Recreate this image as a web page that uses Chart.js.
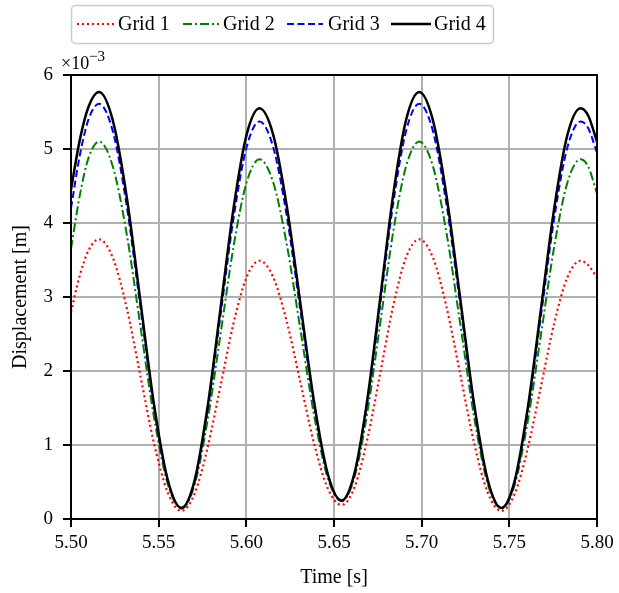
<!DOCTYPE html>
<html>
<head>
<meta charset="utf-8">
<script src="https://cdn.jsdelivr.net/npm/chart.js@4.4.0/dist/chart.umd.min.js"></script>
<style>
  html, body { margin: 0; padding: 0; background: #fff; }
  #wrap { width: 619px; height: 593px; }
</style>
</head>
<body>
<div id="wrap"><canvas id="lineChart" width="619" height="593"></canvas></div>
<script>
// time samples [s]
const times = [5.500, 5.505, 5.510,
    5.516, 5.5238, 5.5317, 5.5395, 5.5473, 5.5552,
    5.563, 5.5704, 5.5778, 5.5853, 5.5927, 5.6001,
    5.6075, 5.6153, 5.6231, 5.6309, 5.6387, 5.6465,
    5.6543, 5.6617, 5.6691, 5.6765, 5.6838, 5.6912,
    5.6986, 5.7064, 5.7142, 5.7221, 5.7299, 5.7377,
    5.7455, 5.753, 5.7605, 5.7681, 5.7756, 5.7831,
    5.7906, 5.795, 5.800];

// displacement, in units of 1e-3 m
const grid1 = [2.80, 3.29, 3.63,
    3.78, 3.534, 2.863, 1.945, 1.028, 0.356,
    0.11, 0.336, 0.955, 1.80, 2.645, 3.264,
    3.49, 3.269, 2.665, 1.84, 1.015, 0.411,
    0.19, 0.43, 1.088, 1.985, 2.883, 3.54,
    3.78, 3.534, 2.863, 1.945, 1.028, 0.356,
    0.11, 0.336, 0.955, 1.80, 2.645, 3.264,
    3.49, 3.43, 3.26];
const grid2 = [3.65, 4.37, 4.88,
    5.10, 4.768, 3.86, 2.62, 1.38, 0.472,
    0.14, 0.456, 1.32, 2.50, 3.68, 4.544,
    4.86, 4.55, 3.705, 2.55, 1.395, 0.550,
    0.24, 0.566, 1.455, 2.67, 3.885, 4.774,
    5.10, 4.768, 3.86, 2.62, 1.38, 0.472,
    0.14, 0.456, 1.32, 2.50, 3.68, 4.544,
    4.86, 4.76, 4.40];
const grid3 = [4.20, 4.91, 5.40,
    5.61, 5.244, 4.245, 2.88, 1.515, 0.516,
    0.15, 0.500, 1.455, 2.76, 4.065, 5.020,
    5.37, 5.027, 4.09, 2.81, 1.53, 0.593,
    0.25, 0.609, 1.59, 2.93, 4.27, 5.251,
    5.61, 5.244, 4.245, 2.88, 1.515, 0.516,
    0.15, 0.500, 1.455, 2.76, 4.065, 5.020,
    5.37, 5.28, 4.95];
const grid4 = [4.45, 5.12, 5.57,
    5.77, 5.39, 4.365, 2.96, 1.555, 0.527,
    0.15, 0.512, 1.50, 2.85, 4.20, 5.188,
    5.55, 5.195, 4.225, 2.90, 1.575, 0.605,
    0.25, 0.62, 1.63, 3.01, 4.39, 5.40,
    5.77, 5.39, 4.365, 2.96, 1.555, 0.527,
    0.15, 0.512, 1.50, 2.85, 4.20, 5.188,
    5.55, 5.45, 5.10];

const seriesNames = ['Grid 1', 'Grid 2', 'Grid 3', 'Grid 4'];
const xTicks = [5.50, 5.55, 5.60, 5.65, 5.70, 5.75, 5.80];
const yTicks = [0, 1, 2, 3, 4, 5, 6];

const FONT = '"Liberation Serif", "DejaVu Serif", serif';
const styles = [
    { color: '#ff0000', dash: [2, 3], width: 2.2 },
    { color: '#008000', dash: [9, 3, 2, 3], width: 2 },
    { color: '#0000ff', dash: [7, 3.5], width: 2 },
    { color: '#000000', dash: [], width: 2.5 }
];

function toPoints(vals) {
    return times.map((t, i) => ({ x: t, y: vals[i] }));
}

// spines on top/right, legend box and the offset label
const decorations = {
    id: 'decorations',
    afterDraw(chart) {
        const ctx = chart.ctx;
        const a = chart.chartArea;
        ctx.save();
        ctx.strokeStyle = '#000';
        ctx.lineWidth = 2;
        ctx.strokeRect(a.left, a.top, a.right - a.left, a.bottom - a.top);

        // legend
        ctx.fillStyle = '#fff';
        ctx.strokeStyle = '#cccccc';
        ctx.lineWidth = 1.5;
        ctx.beginPath();
        ctx.roundRect(71.5, 5.5, 422, 38, 4);
        ctx.fill();
        ctx.stroke();
        const items = [[77, 114, 118], [183, 219, 223], [287, 323, 328], [391, 431, 434]];
        ctx.font = '20px ' + FONT;
        ctx.textBaseline = 'middle';
        ctx.textAlign = 'left';
        items.forEach((it, i) => {
            const s = styles[i];
            ctx.strokeStyle = s.color;
            ctx.lineWidth = s.width;
            ctx.setLineDash(s.dash);
            ctx.beginPath();
            ctx.moveTo(it[0], 24);
            ctx.lineTo(it[1], 24);
            ctx.stroke();
            ctx.setLineDash([]);
            ctx.fillStyle = '#000';
            ctx.fillText(seriesNames[i], it[2], 25);
        });

        // x10^-3
        ctx.textBaseline = 'alphabetic';
        ctx.font = '18px ' + FONT;
        ctx.fillText('\u00d710', 61, 69);
        ctx.font = '15px ' + FONT;
        ctx.fillText('\u22123', 89, 61);
        ctx.restore();
    }
};

const ctx = document.getElementById('lineChart').getContext('2d');
new Chart(ctx, {
    type: 'line',
    data: {
        datasets: [grid1, grid2, grid3, grid4].map((vals, i) => ({
            label: seriesNames[i],
            data: toPoints(vals),
            borderColor: styles[i].color,
            borderDash: styles[i].dash,
            borderWidth: styles[i].width,
            pointRadius: 0,
            fill: false,
            cubicInterpolationMode: 'monotone',
            order: 3 - i
        }))
    },
    options: {
        responsive: false,
        animation: false,
        layout: { padding: { top: 75, right: 22, left: 0, bottom: 0 } },
        plugins: {
            legend: { display: false },
            tooltip: { enabled: false }
        },
        scales: {
            x: {
                type: 'linear',
                min: 5.5,
                max: 5.8,
                afterFit: s => { s.height = 74; },
                afterBuildTicks: s => { s.ticks = xTicks.map(v => ({ value: v })); },
                ticks: {
                    color: '#000',
                    font: { family: FONT, size: 19 },
                    padding: 5,
                    maxRotation: 0,
                    callback: v => Number(v).toFixed(2)
                },
                grid: { color: '#b0b0b0', lineWidth: 2, tickColor: '#000', tickWidth: 2, tickLength: 8 },
                border: { color: '#000', width: 2 },
                title: {
                    display: true,
                    text: 'Time [s]',
                    color: '#000',
                    font: { family: FONT, size: 20 },
                    padding: { top: 0, bottom: 3 }
                }
            },
            y: {
                min: 0,
                max: 6,
                afterFit: s => { s.width = 71; },
                afterBuildTicks: s => { s.ticks = yTicks.map(v => ({ value: v })); },
                ticks: {
                    color: '#000',
                    font: { family: FONT, size: 19 },
                    padding: 10
                },
                grid: { color: '#b0b0b0', lineWidth: 2, tickColor: '#000', tickWidth: 2, tickLength: 8 },
                border: { color: '#000', width: 2 },
                title: {
                    display: true,
                    text: 'Displacement [m]',
                    color: '#000',
                    font: { family: FONT, size: 20 },
                    padding: { top: 9, bottom: 0 }
                }
            }
        }
    },
    plugins: [decorations]
});
</script>
</body>
</html>
